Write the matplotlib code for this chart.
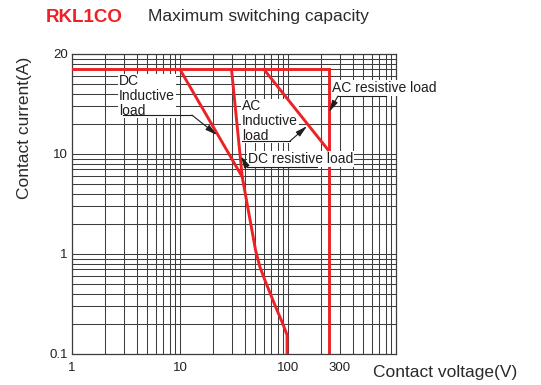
import numpy as np
import matplotlib.pyplot as plt
from matplotlib.ticker import LogLocator, NullFormatter, FixedLocator

plt.rcParams['font.family'] = ['Liberation Sans', 'DejaVu Sans']

# limit curves (voltage V, current in axis units)
top_current = 70
ac_res_volt = 240

limit_v = [1, ac_res_volt]
limit_i = [top_current, top_current]

ac_res_v = [ac_res_volt, ac_res_volt]
ac_res_i = [top_current, 0.1]

dc_ind_v = [10, 37.7]
dc_ind_i = [top_current, 5.9]

ac_ind_v = [60, 235]
ac_ind_i = [top_current, 11]

dc_res_v = [30, 37.7, 50, 55, 61, 68, 79, 88, 98, 98]
dc_res_i = [top_current, 5.9, 1.1, 0.74, 0.55, 0.41, 0.275, 0.21, 0.155, 0.1]

x_ticks = [1, 10, 100, 300]
x_labels = ['1', '10', '100', '300']
y_ticks = [0.1, 1, 10, 100]
y_labels = ['0.1', '1', '10', '20']

red = '#ec2227'
grid_col = '#3d3d3d'
ink = '#1e1e1e'

fig = plt.figure(figsize=(5.41, 3.85), dpi=100)
ax = fig.add_axes([72 / 541, 1 - 354 / 385, 324 / 541, 300 / 385])

ax.set_xscale('log')
ax.set_yscale('log')
ax.set_xlim(1, 1000)
ax.set_ylim(0.1, 100)

ax.xaxis.set_major_locator(FixedLocator(x_ticks))
ax.set_xticklabels(x_labels)
ax.yaxis.set_major_locator(FixedLocator(y_ticks))
ax.set_yticklabels(y_labels)
for axis in (ax.xaxis, ax.yaxis):
    axis.set_minor_locator(LogLocator(base=10, subs=np.arange(2, 10)))
    axis.set_minor_formatter(NullFormatter())

ax.grid(True, which='both', color=grid_col, lw=0.75, zorder=1)
ax.set_axisbelow(True)
for s in ax.spines.values():
    s.set_color(grid_col)
    s.set_linewidth(0.9)
ax.tick_params(which='both', length=0, labelsize=9.5, colors='#222')
ax.tick_params(axis='x', pad=6)
ax.tick_params(axis='y', pad=3)

# red limit curves; the AC resistive line sits under the label boxes
ax.plot(ac_res_v, ac_res_i, color=red, lw=2.1, zorder=3)
for xv, yv in [(limit_v, limit_i), (dc_ind_v, dc_ind_i),
               (ac_ind_v, ac_ind_i), (dc_res_v, dc_res_i)]:
    ax.plot(xv, yv, color=red, lw=2.1, solid_joinstyle='miter', zorder=5)

# labels with leader lines
box = dict(facecolor='white', edgecolor='none', pad=0.6)
txt = dict(fontsize=10, color=ink, ha='left', va='center', bbox=box,
           zorder=4, linespacing=1.05)
ax.text(2.72, 38, 'DC\nInductive\nload', **txt)
ax.text(37.6, 21.4, 'AC\nInductive\nload', **txt)
ax.text(255, 45.7, 'AC resistive load', **txt)
ax.text(42.7, 8.9, 'DC resistive load', **txt)

leaders = [
    ((2.97, 12.9), 24.5, (22, 15.5)),
    ((37.6, 104.7), 13.5, (150, 19)),
    ((810, 290), 38, (240, 26.3)),
    ((184, 41.8), 7.4, (36.7, 9.5)),
]
for (xa, xb), yl, tip in leaders:
    ax.plot([xa, xb], [yl, yl], color=ink, lw=0.8, zorder=6)
    ax.annotate('', xy=tip, xytext=(xb, yl),
                arrowprops=dict(arrowstyle='-|>,head_length=0.7,head_width=0.18',
                                color=ink, lw=0.8, shrinkA=0, shrinkB=0),
                zorder=6)

fig.text(46 / 541, 1 - 17 / 385, 'RKL1CO', color=red, fontsize=13.5,
         fontweight='bold', ha='left', va='center')
fig.text(148 / 541, 1 - 17 / 385, 'Maximum switching capacity', color='#2a2a2a',
         fontsize=12.5, ha='left', va='center')
fig.text(25 / 541, 1 - 128 / 385, 'Contact current(A)', color='#2a2a2a',
         fontsize=12.5, rotation=90, ha='center', va='center')
fig.text(373 / 541, 1 - 373 / 385, 'Contact voltage(V)', color='#2a2a2a',
         fontsize=12.5, ha='left', va='center')

fig.savefig('out.png', dpi=100)
